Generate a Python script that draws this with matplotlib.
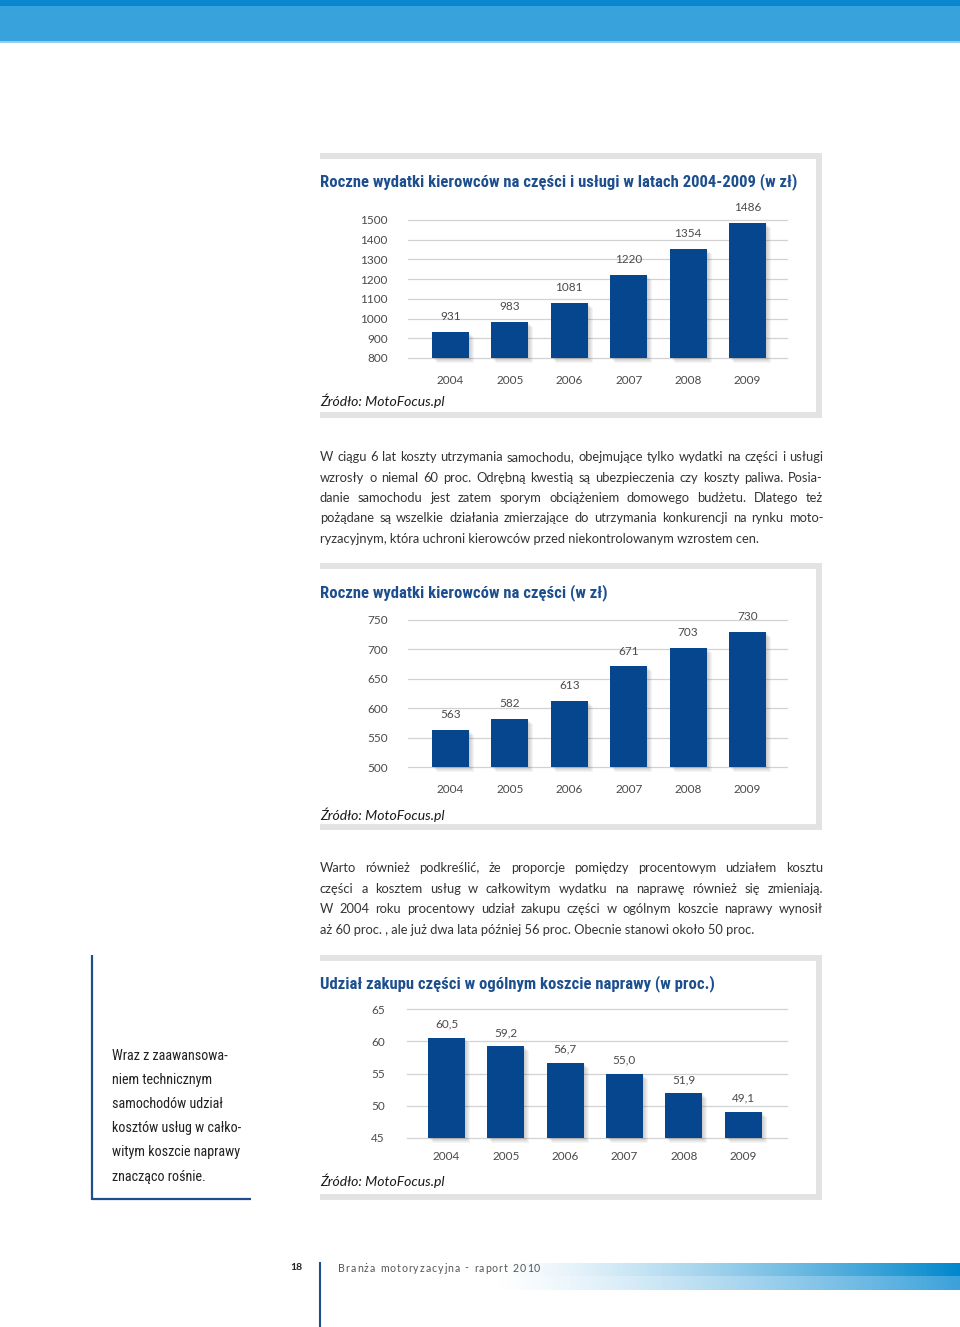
import numpy as np
import matplotlib
matplotlib.use("Agg")
import matplotlib.pyplot as plt
from matplotlib import font_manager
from matplotlib.font_manager import FontProperties
from matplotlib.patches import Rectangle
from matplotlib.transforms import ScaledTranslation

# --- dane ---
years = ["2004", "2005", "2006", "2007", "2008", "2009"]
total_cost = [931, 983, 1081, 1220, 1354, 1486]      # czesci + uslugi (zl)
parts_cost = [563, 582, 613, 671, 703, 730]          # czesci (zl)
parts_share = [60.5, 59.2, 56.7, 55.0, 51.9, 49.1]   # udzial czesci (proc.)

title1 = "Roczne wydatki kierowców na części i usługi w latach 2004-2009 (w zł)"
title2 = "Roczne wydatki kierowców na części (w zł)"
title3 = "Udział zakupu części w ogólnym koszcie naprawy (w proc.)"
source = "Źródło: MotoFocus.pl"

para1 = ["W ciągu 6 lat koszty utrzymania samochodu, obejmujące tylko wydatki na części i usługi",
         "wzrosły o niemal 60 proc. Odrębną kwestią są ubezpieczenia czy koszty paliwa. Posia-",
         "danie samochodu jest zatem sporym obciążeniem domowego budżetu. Dlatego też",
         "pożądane są wszelkie działania zmierzające do utrzymania konkurencji na rynku moto-",
         "ryzacyjnym, która uchroni kierowców przed niekontrolowanym wzrostem cen."]
para2 = ["Warto również podkreślić, że proporcje pomiędzy procentowym udziałem kosztu",
         "części a kosztem usług w całkowitym wydatku na naprawę również się zmieniają.",
         "W 2004 roku procentowy udział zakupu części w ogólnym koszcie naprawy wynosił",
         "aż 60 proc. , ale już dwa lata później 56 proc. Obecnie stanowi około 50 proc."]
side_note = ["Wraz z zaawansowa-", "niem technicznym", "samochodów udział",
             "kosztów usług w całko-", "witym koszcie naprawy", "znacząco rośnie."]
footer = "Branża motoryzacyjna - raport 2010"
page_no = "18"

# --- wyglad ---
W, H = 960, 1327
installed = {f.name for f in font_manager.fontManager.ttflist}
BODY = "Lato" if "Lato" in installed else "DejaVu Sans"
NARROW = next((f for f in ["Liberation Sans Narrow", "Roboto Condensed", "Open Sans Condensed"]
               if f in installed), BODY)
plt.rcParams["font.family"] = [BODY, "DejaVu Sans"]

BLUE = "#06468f"
NAVY = "#1d4f8f"
GRID = "#d2d2d2"
FRAME = "#e3e3e3"
TXT = "#333333"
TICK = "#4a4a4a"

fig = plt.figure(figsize=(W / 100, H / 100), dpi=100)
page = fig.add_axes([0, 0, 1, 1])
page.axis("off")


def box(x0, y0, x1, y1, color, z=1):
    page.add_patch(Rectangle((x0, y0), x1 - x0, y1 - y0, color=color, lw=0, zorder=z))


def frame(top, bottom):
    box(320, top, 822, top + 6, FRAME)
    box(816, top, 822, bottom, FRAME)
    box(320, bottom - 6, 822, bottom, FRAME)


# pasek u gory
box(0, 0, W, 6, "#0a88cf")
box(0, 6, W, 41, "#37a2db")
box(0, 41, W, 43, "#93d0ef")

frame(153, 418)
frame(563, 830)
frame(955, 1200)

# gradient w stopce
ramp = np.linspace(0, 1, 300) ** 1.3
grad = np.ones((2, 300, 4))
grad[0, :, :3] = (0.0, 0.533, 0.80)
grad[1, :, :3] = (0.23, 0.635, 0.855)
grad[:, :, 3] = ramp
page.imshow(grad, extent=(490, 960, 1290, 1263), aspect="auto", interpolation="nearest", zorder=1)

page.set_xlim(0, W)
page.set_ylim(H, 0)


def bar_chart(left, right, top, bottom, xc0, step, lo, hi, ticks, values, labels,
              ypad, xpad, off):
    ax = fig.add_axes([left / W, 1 - bottom / H, (right - left) / W, (bottom - top) / H])
    ax.set_facecolor("none")
    x = np.arange(len(values))
    ax.set_xlim((left - xc0) / step, (right - xc0) / step)
    ax.set_ylim(lo, hi)
    width = 37 / step
    heights = np.array(values) - lo
    for d in range(1, 6):
        tr = ax.transData + ScaledTranslation(d / 100, -d / 100, fig.dpi_scale_trans)
        ax.bar(x, heights, bottom=lo, width=width, color="#505050", alpha=0.06,
               transform=tr, clip_on=False, zorder=2)
    ax.bar(x, heights, bottom=lo, width=width, color=BLUE, zorder=3, clip_on=False)
    for xi, v, lab in zip(x, values, labels):
        ax.annotate(lab, (xi, v), xytext=(0, off), textcoords="offset points",
                    ha="center", va="bottom", fontsize=8.5, color=TICK, annotation_clip=False)
    ax.set_yticks(ticks)
    ax.set_xticks(x, years)
    ax.yaxis.grid(True, color=GRID, lw=0.9)
    ax.set_axisbelow(True)
    for s in ax.spines.values():
        s.set_visible(False)
    ax.tick_params(axis="y", length=0, labelsize=8.5, labelcolor=TICK, pad=ypad)
    ax.tick_params(axis="x", length=0, labelsize=8.5, labelcolor=TICK, pad=xpad)
    for gl in ax.get_ygridlines():
        gl.set_clip_on(False)
    return ax


bar_chart(408, 787, 220, 358, 450.5, 59.4, 800, 1500, range(800, 1501, 100),
          total_cost, [str(v) for v in total_cost], 14.5, 12, 7)
bar_chart(408, 787, 620, 767, 450.5, 59.4, 500, 750, range(500, 751, 50),
          parts_cost, [str(v) for v in parts_cost], 14.5, 12, 7)
bar_chart(407, 787, 1009, 1138, 446.5, 59.3, 45, 65, range(45, 66, 5),
          parts_share, [f"{v:.1f}".replace(".", ",") for v in parts_share], 16, 9.5, 6)

# tytuly i zrodla
for t, y in [(title1, 180), (title2, 591), (title3, 982)]:
    page.text(320, y, t, fontsize=12, family=[NARROW, "DejaVu Sans"], fontweight="bold",
              color=NAVY, va="center_baseline", ha="left")
for y in (400, 814, 1180):
    page.text(320, y, source, fontsize=10.1, style="italic", color="#1a1a1a",
              va="center_baseline", ha="left")

# tekst wyjustowany (Agg wyrownuje do lewej krawedzi tuszu, wiec mierzymy tusz)
renderer = fig.canvas.get_renderer()


def text_w(s, fp):
    return renderer.get_text_width_height_descent(s, fp, ismath=False)[0]


def fit_size(lines, x0=320, x1=823, size=9.4):
    # zmniejszaj czcionke az kazda linia zmiesci sie z rozsadnym odstepem
    while size > 6:
        fp = FontProperties(family=BODY, size=size)
        sp = text_w("n", fp) * 0.5
        ok = all(sum(text_w(w, fp) for w in ln.split(" ")) + sp * (len(ln.split(" ")) - 1)
                 <= x1 - x0 for ln in lines)
        if ok:
            return fp
        size -= 0.1
    return FontProperties(family=BODY, size=size)


def justify(lines, y0, dy, fp, x0=320, x1=823):
    for i, line in enumerate(lines):
        y = y0 + i * dy
        if i == len(lines) - 1:
            page.text(x0, y, line, fontproperties=fp, color=TXT, va="center_baseline")
            continue
        words = line.split(" ")
        ws = [text_w(w, fp) for w in words]
        gap = (x1 - x0 - sum(ws)) / (len(words) - 1)
        x = x0
        for w, wd in zip(words, ws):
            page.text(x, y, w, fontproperties=fp, color=TXT, va="center_baseline")
            x += wd + gap


body_fp = fit_size(para1 + para2)
justify(para1, 456, 20.5, body_fp)
justify(para2, 867, 20.6, body_fp)

# ramka boczna
page.plot([92, 92], [955, 1200], color=NAVY, lw=1.6, solid_capstyle="butt")
page.plot([92, 251], [1199, 1199], color=NAVY, lw=1.6, solid_capstyle="butt")
for i, line in enumerate(side_note):
    page.text(112, 1054 + i * 24.2, line, fontsize=10.2, family=[NARROW, "DejaVu Sans"],
              color="#222222", va="center_baseline")

# stopka
page.plot([320, 320], [1262, H], color=NAVY, lw=1.5, solid_capstyle="butt")
page.text(296, 1267, page_no, fontsize=7.5, fontweight="bold", color="#222222",
          ha="center", va="center_baseline")
foot_fp = FontProperties(family=BODY, size=7.6)
cw = [text_w(c, foot_fp) if c != " " else text_w("n", foot_fp) * 0.55 for c in footer]
spacing = (540 - 338 - sum(cw)) / (len(footer) - 1)
x = 338
for c, w in zip(footer, cw):
    page.text(x, 1267, c, fontproperties=foot_fp, color="#555555", va="center_baseline")
    x += w + spacing

fig.savefig("out.png", dpi=100)
